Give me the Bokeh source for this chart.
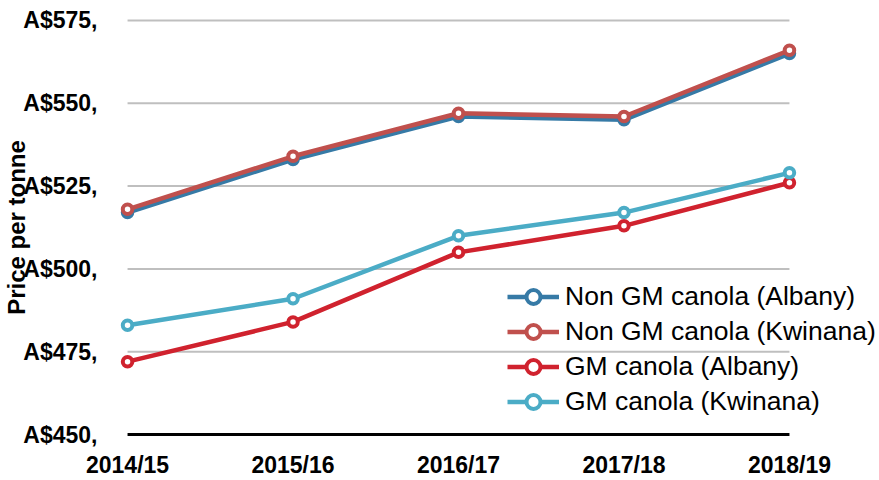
from bokeh.plotting import figure
from bokeh.models import FixedTicker, Legend, LegendItem
from bokeh.embed import file_html
from bokeh.resources import INLINE

categories = ["2014/15", "2015/16", "2016/17", "2017/18", "2018/19"]
non_gm_albany = [517, 533, 546, 545, 565]
non_gm_kwinana = [518, 534, 547, 546, 566]
gm_albany = [472, 484, 505, 513, 526]
gm_kwinana = [483, 491, 510, 517, 529]
y_ticks = [450, 475, 500, 525, 550, 575]
y_tick_labels = ["A$450,", "A$475,", "A$500,", "A$525,", "A$550,", "A$575,"]

series = [
    ("Non GM canola (Albany)", non_gm_albany, "#367AA6"),
    ("Non GM canola (Kwinana)", non_gm_kwinana, "#C0504D"),
    ("GM canola (Albany)", gm_albany, "#D0222E"),
    ("GM canola (Kwinana)", gm_kwinana, "#4BACC6"),
]

FONT = "Liberation Sans"
xs = list(range(len(categories)))

p = figure(width=876, height=480, output_backend="svg", toolbar_location=None,
           x_range=(-0.103, 4.526), y_range=(447, 578),
           min_border_left=110, min_border_right=0, min_border_top=10, min_border_bottom=35)
p.outline_line_color = None
p.xgrid.visible = False
p.ygrid.visible = False

# gridlines (from tick values) spanning first to last category
grid_vals = y_ticks[1:]
p.segment(x0=[xs[0]] * len(grid_vals), x1=[xs[-1]] * len(grid_vals), y0=grid_vals, y1=grid_vals,
          line_color="#BFBFBF", line_width=2)
p.segment(x0=[xs[0]], x1=[xs[-1]], y0=[y_ticks[0]], y1=[y_ticks[0]], line_color="black", line_width=3)

items = []
for name, vals, color in series:
    r1 = p.line(xs, vals, line_color=color, line_width=4.5)
    r2 = p.scatter(xs, vals, size=9.5, line_color=color, line_width=4, fill_color="white")
    items.append(LegendItem(label=name, renderers=[r1, r2]))

legend = Legend(items=items, location=(397, 25), background_fill_alpha=0, border_line_color=None,
                label_text_font=FONT, label_text_font_size="26.5px", label_text_color="black",
                glyph_width=52, glyph_height=35, label_height=35, label_standoff=6,
                spacing=0, padding=0, margin=0)
p.add_layout(legend)

p.xaxis.ticker = FixedTicker(ticks=xs)
p.xaxis.major_label_overrides = {i: c for i, c in zip(xs, categories)}
p.xaxis.major_label_text_font = FONT
p.xaxis.major_label_text_font_size = "23px"
p.xaxis.major_label_text_font_style = "bold"
p.xaxis.major_label_text_color = "black"
p.xaxis.major_label_standoff = 1
p.xaxis.axis_line_color = None
p.xaxis.major_tick_line_color = None
p.xaxis.minor_tick_line_color = None

p.yaxis.ticker = FixedTicker(ticks=y_ticks)
p.yaxis.major_label_overrides = {v: l for v, l in zip(y_ticks, y_tick_labels)}
p.yaxis.major_label_text_font = FONT
p.yaxis.major_label_text_font_size = "23px"
p.yaxis.major_label_text_font_style = "bold"
p.yaxis.major_label_text_color = "black"
p.yaxis.major_label_standoff = 7
p.yaxis.axis_line_color = None
p.yaxis.major_tick_line_color = None
p.yaxis.minor_tick_line_color = None
p.yaxis.axis_label = "Price per tonne"
p.yaxis.axis_label_text_font = FONT
p.yaxis.axis_label_text_font_size = "24px"
p.yaxis.axis_label_text_font_style = "bold"
p.yaxis.axis_label_text_color = "black"
p.yaxis.axis_label_standoff = -10

open("out.html", "w").write(file_html(p, INLINE))
